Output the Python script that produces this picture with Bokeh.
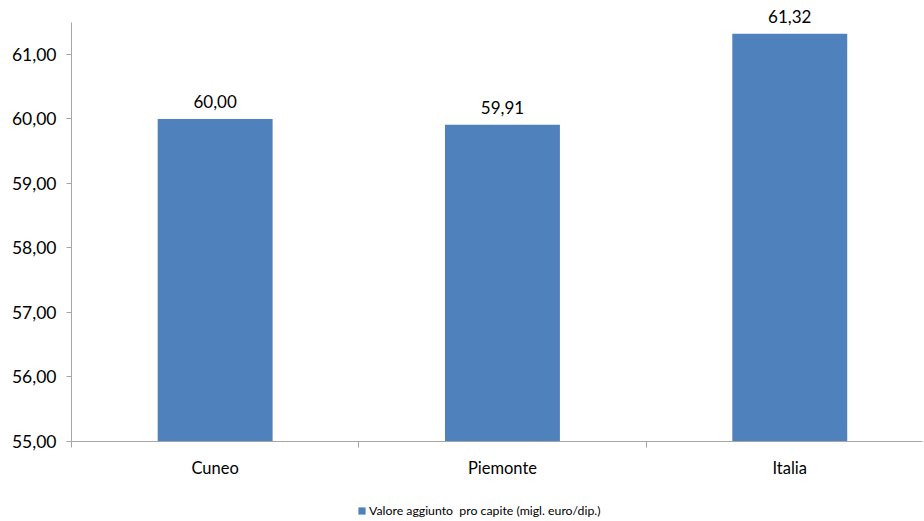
from bokeh.plotting import figure
from bokeh.layouts import column
from bokeh.models import Range1d, FixedTicker, ColumnDataSource, Legend, LegendItem, LabelSet
from bokeh.core.properties import value
from bokeh.embed import file_html
from bokeh.resources import INLINE

categories = ["Cuneo", "Piemonte", "Italia"]
values = [60.00, 59.91, 61.32]
value_labels = ["60,00", "59,91", "61,32"]
y_ticks = [55, 56, 57, 58, 59, 60, 61]
y_tick_labels = ["55,00", "56,00", "57,00", "58,00", "59,00", "60,00", "61,00"]
series_name = "Valore aggiunto  pro capite (migl. euro/dip.)"

FONT = "Lato"
AXIS_COLOR = "#a6a6a6"
BAR_COLOR = "#4f81bd"

xpos = [i + 0.5 for i in range(len(categories))]
src = ColumnDataSource(dict(x=xpos, top=values, lab=value_labels))

p = figure(width=924, height=490, output_backend="svg", toolbar_location=None,
           x_range=Range1d(0, 2.962), y_range=Range1d(55, 61.837),
           min_border_left=71, min_border_right=2, min_border_top=0, min_border_bottom=49)
p.outline_line_color = None
p.xgrid.visible = False
p.ygrid.visible = False

r = p.vbar(x="x", top="top", bottom=55, width=0.4, source=src, fill_color=BAR_COLOR, line_color=None)
labels = LabelSet(x="x", y="top", text="lab", source=src, text_align="center", text_baseline="bottom",
                  y_offset=11, text_font_size="17px", text_color="#000000", text_font=value(FONT))
p.add_layout(labels)

# x axis
p.xaxis.ticker = FixedTicker(ticks=xpos, minor_ticks=[0, 1, 2])
p.xaxis.major_label_overrides = {x: c for x, c in zip(xpos, categories)}
p.xaxis.major_tick_out = 0
p.xaxis.major_tick_in = 0
p.xaxis.minor_tick_out = 6
p.xaxis.minor_tick_in = 0
p.xaxis.axis_line_color = AXIS_COLOR
p.xaxis.minor_tick_line_color = AXIS_COLOR
p.xaxis.major_label_standoff = 10
p.xaxis.major_label_text_font = FONT
p.xaxis.major_label_text_font_size = "16.5px"
p.xaxis.major_label_text_color = "#000000"

# y axis
p.yaxis.ticker = FixedTicker(ticks=y_ticks, minor_ticks=[])
p.yaxis.bounds = (55, 61.5)
p.yaxis.major_label_overrides = {t: l for t, l in zip(y_ticks, y_tick_labels)}
p.yaxis.major_tick_out = 5
p.yaxis.major_tick_in = 0
p.yaxis.minor_tick_out = 0
p.yaxis.axis_line_color = AXIS_COLOR
p.yaxis.major_tick_line_color = AXIS_COLOR
p.yaxis.major_label_standoff = 10
p.yaxis.major_label_text_font = FONT
p.yaxis.major_label_text_font_size = "17.5px"
p.yaxis.major_label_text_color = "#000000"

# legend strip below the chart (proxy bars lie far outside this strip's view)
p2 = figure(width=924, height=31, output_backend="svg", toolbar_location=None,
            x_range=Range1d(100, 101), y_range=Range1d(100, 101),
            min_border=0, outline_line_color=None)
p2.axis.visible = False
p2.grid.visible = False
proxy = p2.vbar(x="x", top="top", bottom=55, width=0.1, source=src,
                fill_color=BAR_COLOR, line_color=None)
legend = Legend(items=[LegendItem(label=series_name, renderers=[proxy])],
                location=(286, 3), orientation="horizontal",
                border_line_color=None, background_fill_alpha=0,
                label_text_font=FONT, label_text_font_size="12.3px", label_height=13,
                label_text_color="#000000",
                glyph_width=9, glyph_height=9, label_standoff=3, padding=0, margin=0)
p2.add_layout(legend, "center")

layout = column(p, p2, spacing=0)
open("out.html", "w").write(file_html(layout, INLINE))
